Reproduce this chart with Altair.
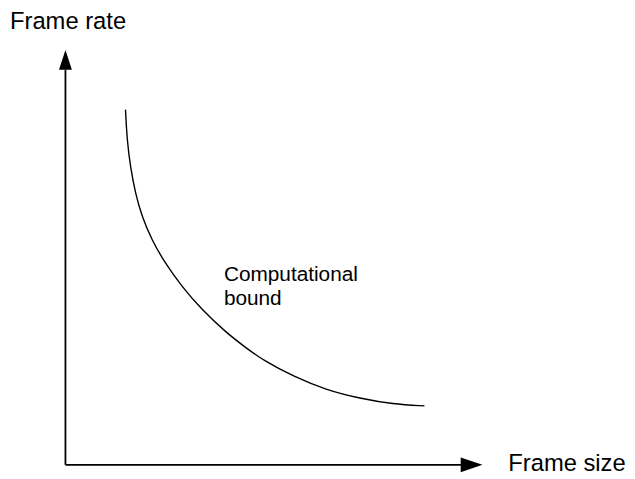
import altair as alt
import pandas as pd

# Curve "Computational bound" (frame size vs frame rate, arbitrary units 0-100)
curve_size = [14.4, 14.8, 15.6, 16.8, 18.4, 20.7, 23.9, 27.9, 32.6, 38.5, 43.7, 47.3, 54.8, 62.7, 70.6, 78.6, 86.1]
curve_rate = [85.6, 78.0, 71.7, 65.3, 59.7, 54.2, 48.6, 43.0, 37.5, 31.9, 27.9, 25.3, 21.2, 18.0, 16.0, 14.6, 14.2]

# axis extents (arrow bases / arrow centres)
axis_end = 95.2
arrow_x_center = 97.4
arrow_y_center = 97.6

labels_text = ["Frame rate", "Frame size"]
labels_x = [-13.3, 106.2]
labels_y = [105.1, -1.5]

note_text = ["Computational", "bound"]
note_x = [38.0, 38.0]
note_y = [44.2, 38.4]

FONT = "Liberation Sans"
xs = alt.Scale(domain=[0, 100])
ys = alt.Scale(domain=[0, 100])

curve_df = pd.DataFrame({"size": curve_size, "rate": curve_rate})
curve = alt.Chart(curve_df).mark_line(color="black", strokeWidth=1.4, interpolate="basis").encode(
    x=alt.X("size:Q", scale=xs, axis=None),
    y=alt.Y("rate:Q", scale=ys, axis=None),
    order="size:Q",
)

yaxis_df = pd.DataFrame({"x": [0], "y": [0], "y2": [axis_end]})
yaxis = alt.Chart(yaxis_df).mark_rule(color="black", strokeWidth=1.8).encode(
    x=alt.X("x:Q", scale=xs, axis=None),
    y=alt.Y("y:Q", scale=ys, axis=None),
    y2="y2:Q",
)
xaxis_df = pd.DataFrame({"x": [0], "x2": [axis_end], "y": [0]})
xaxis = alt.Chart(xaxis_df).mark_rule(color="black", strokeWidth=1.8).encode(
    x=alt.X("x:Q", scale=xs, axis=None),
    x2="x2:Q",
    y=alt.Y("y:Q", scale=ys, axis=None),
)

up_df = pd.DataFrame({"x": [0], "y": [arrow_y_center]})
up_arrow = alt.Chart(up_df).mark_point(
    shape="M-0.65,1L0,-1L0.65,1Z", filled=True, color="black", opacity=1, size=400
).encode(x=alt.X("x:Q", scale=xs, axis=None), y=alt.Y("y:Q", scale=ys, axis=None))

right_df = pd.DataFrame({"x": [arrow_x_center], "y": [0]})
right_arrow = alt.Chart(right_df).mark_point(
    shape="M-1,-0.68L1,0L-1,0.68Z", filled=True, color="black", opacity=1, size=484
).encode(x=alt.X("x:Q", scale=xs, axis=None), y=alt.Y("y:Q", scale=ys, axis=None))

lab_df = pd.DataFrame({"t": labels_text, "x": labels_x, "y": labels_y})
labels = alt.Chart(lab_df).mark_text(
    font=FONT, fontSize=24, color="black", align="left", baseline="alphabetic"
).encode(x=alt.X("x:Q", scale=xs, axis=None), y=alt.Y("y:Q", scale=ys, axis=None), text="t:N")

note_df = pd.DataFrame({"t": note_text, "x": note_x, "y": note_y})
note = alt.Chart(note_df).mark_text(
    font=FONT, fontSize=21, color="black", align="left", baseline="alphabetic"
).encode(x=alt.X("x:Q", scale=xs, axis=None), y=alt.Y("y:Q", scale=ys, axis=None), text="t:N")

chart = alt.layer(yaxis, xaxis, up_arrow, right_arrow, curve, labels, note).properties(
    width=421,
    height=419,
    autosize=alt.AutoSizeParams(type="none"),
    padding={"left": 58, "top": 40, "right": 146, "bottom": 8},
).configure_view(stroke=None)

chart.save("out.html", embed_options={"renderer": "svg", "actions": False})
